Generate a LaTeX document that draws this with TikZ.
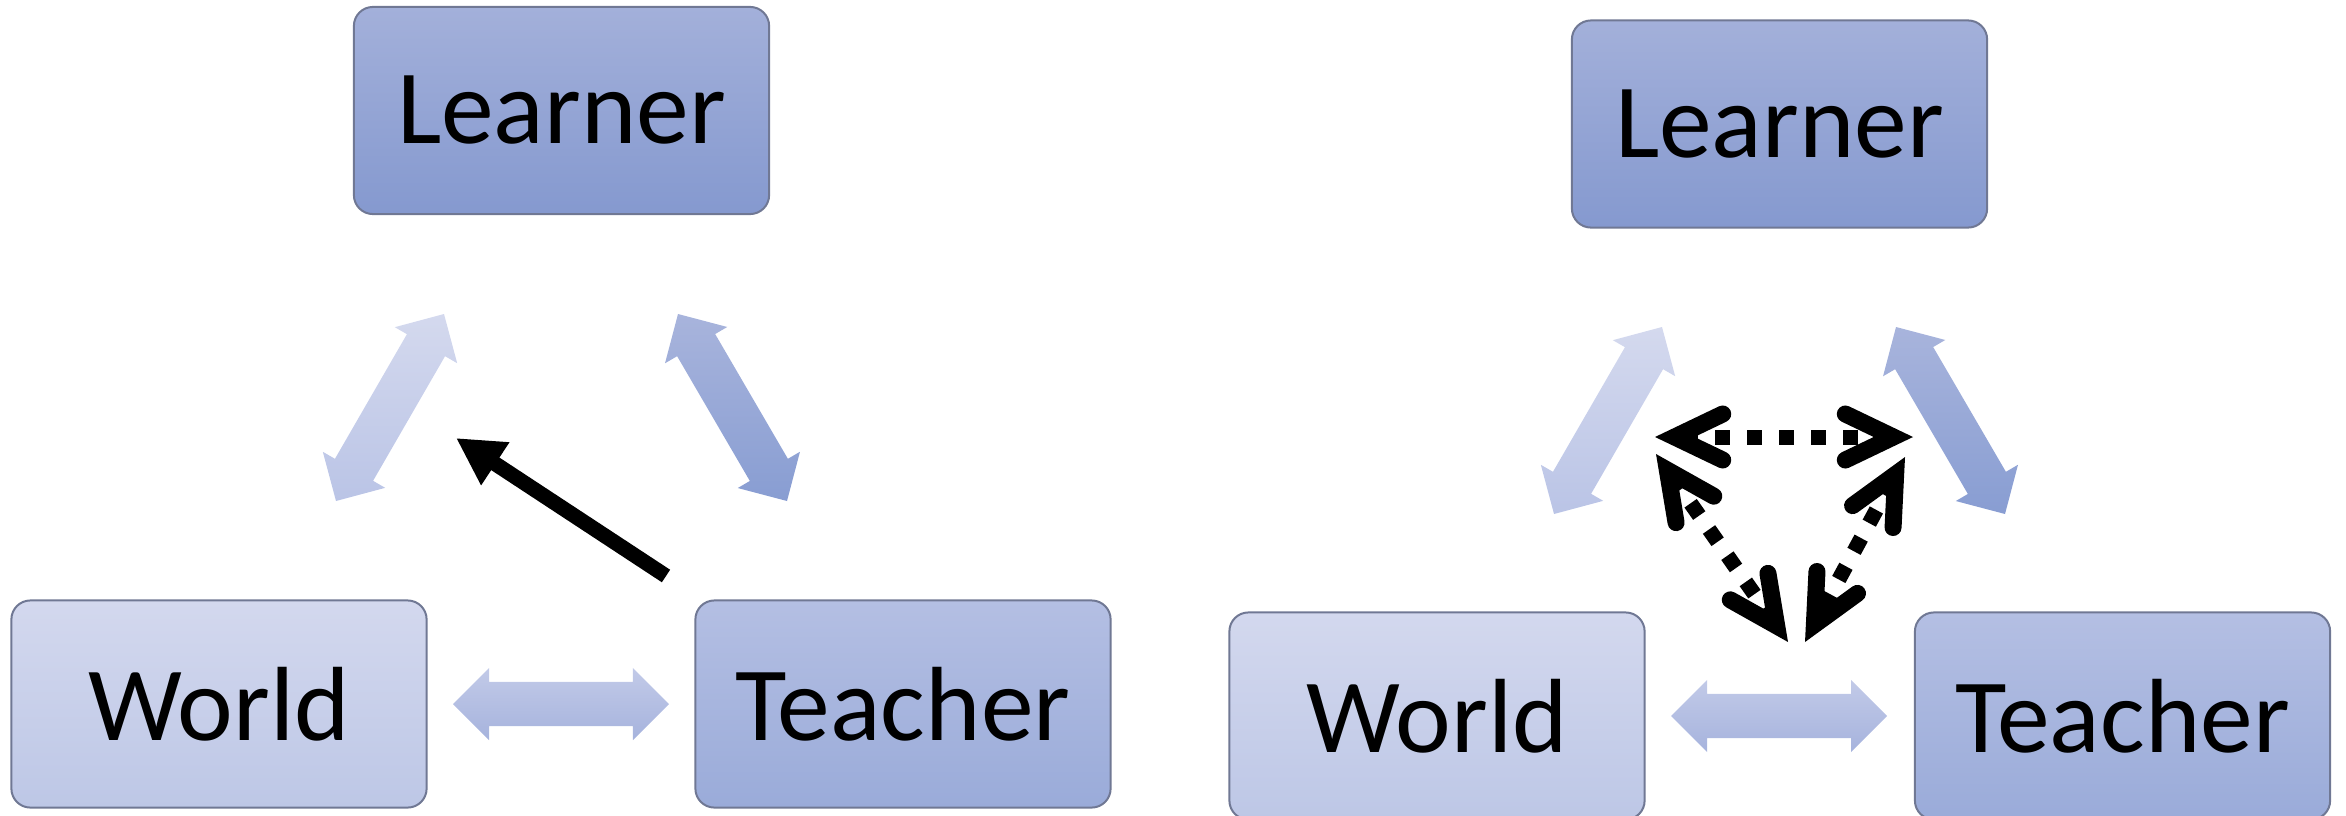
\documentclass[tikz,border=0pt]{standalone}
\usepackage{fontspec}
\setmainfont{Carlito}
\usetikzlibrary{arrows.meta,calc}

% fills of the three boxes (top and bottom of the vertical gradient)
\definecolor{learnerTop}{RGB}{163,176,218}
\definecolor{learnerBot}{RGB}{133,153,207}
\definecolor{worldTop}{RGB}{211,216,238}
\definecolor{worldBot}{RGB}{189,199,230}
\definecolor{teacherTop}{RGB}{180,191,227}
\definecolor{teacherBot}{RGB}{154,171,217}
\definecolor{boxline}{RGB}{112,120,148}
% fills of the wide double arrows
\definecolor{wlTop}{RGB}{212,217,238}
\definecolor{wlBot}{RGB}{186,196,230}
\definecolor{ltTop}{RGB}{168,180,220}
\definecolor{ltBot}{RGB}{136,157,210}
\definecolor{wtTop}{RGB}{194,202,232}
\definecolor{wtBot}{RGB}{166,179,221}

% wide double arrow between two tip coordinates
\newcommand\arrhead{0.36cm}
\newcommand\arrhalf{0.36cm}
\newcommand\arrshaft{0.22cm}
\newcommand\widearrow[3]{%
  \path[#3] (#1)
    -- ($(#1)!\arrhead!(#2)!\arrhalf!90:(#2)$)
    -- ($(#1)!\arrhead!(#2)!\arrshaft!90:(#2)$)
    -- ($(#2)!\arrhead!(#1)!\arrshaft!-90:(#1)$)
    -- ($(#2)!\arrhead!(#1)!\arrhalf!-90:(#1)$)
    -- (#2)
    -- ($(#2)!\arrhead!(#1)!\arrhalf!90:(#1)$)
    -- ($(#2)!\arrhead!(#1)!\arrshaft!90:(#1)$)
    -- ($(#1)!\arrhead!(#2)!\arrshaft!-90:(#2)$)
    -- ($(#1)!\arrhead!(#2)!\arrhalf!-90:(#2)$)
    -- cycle;}

\begin{document}
\begin{tikzpicture}[x=0.01cm,y=-0.01cm,
  box/.style={rounded corners=0.19cm, draw=boxline, line width=0.02cm,
    minimum width=4.15cm, minimum height=2.07cm, inner sep=0pt,
    font=\fontsize{30pt}{36pt}\selectfont, text=black},
  learnerbox/.style={box, top color=learnerTop, bottom color=learnerBot},
  worldbox/.style={box, top color=worldTop, bottom color=worldBot},
  teacherbox/.style={box, top color=teacherTop, bottom color=teacherBot},
  wl/.style={top color=wlTop, bottom color=wlBot},
  lt/.style={top color=ltTop, bottom color=ltBot},
  wt/.style={top color=wtTop, bottom color=wtBot},
  solidarrow/.style={line width=0.15cm, -{Triangle[length=0.47cm,width=0.48cm]}},
  barb/.style={Straight Barb[length=0.48cm,width=0.46cm,line width=0.17cm,line cap=round,line join=miter]},
  dottedarrow/.style={line width=0.15cm, dash pattern=on 0.15cm off 0.17cm,
    {Straight Barb[length=0.48cm,width=0.46cm,line width=0.17cm,line cap=round,line join=miter]}-{Straight Barb[length=0.48cm,width=0.46cm,line width=0.17cm,line cap=round,line join=miter]}}
]
\useasboundingbox (0,0) rectangle (2346,815);
\clip (0,0) rectangle (2346,815);

% ---------- left panel ----------
\node[learnerbox] (learnerA) at (561.5,110.5) {Learner};
\node[worldbox]   (worldA)   at (219,704)     {World};
\node[teacherbox] (teacherA) at (903,704)     {Teacher};

\coordinate (wlA1) at (336,501);  \coordinate (wlA2) at (444,314);
\coordinate (ltA1) at (678,314);  \coordinate (ltA2) at (787,501);
\coordinate (wtA1) at (453,704);  \coordinate (wtA2) at (669,704);
\widearrow{wlA1}{wlA2}{wl}
\widearrow{ltA1}{ltA2}{lt}
\widearrow{wtA1}{wtA2}{wt}

\coordinate (pathTail) at (666,576);
\coordinate (pathTip)  at (456,438);
\draw[solidarrow] (pathTail) -- (pathTip);

% ---------- right panel ----------
\node[learnerbox] (learnerB) at (1779.5,124) {Learner};
\node[worldbox]   (worldB)   at (1437,716)   {World};
\node[teacherbox] (teacherB) at (2122.5,716) {Teacher};

\coordinate (wlB1) at (1554,514); \coordinate (wlB2) at (1662,327);
\coordinate (ltB1) at (1896,327); \coordinate (ltB2) at (2005,514);
\coordinate (wtB1) at (1671,716); \coordinate (wtB2) at (1887,716);
\widearrow{wlB1}{wlB2}{wl}
\widearrow{ltB1}{ltB2}{lt}
\widearrow{wtB1}{wtB2}{wt}

\coordinate (topL) at (1655,437);  \coordinate (topR) at (1913,437);
\coordinate (sideL) at (1656,454); \coordinate (baseL) at (1788,642);
\coordinate (sideR) at (1905,457); \coordinate (baseR) at (1805,642);
\draw[dottedarrow] (topL) -- (topR);
\draw[dottedarrow] (sideL) -- (baseL);
\draw[dottedarrow] (sideR) -- (baseR);
\end{tikzpicture}
\end{document}
